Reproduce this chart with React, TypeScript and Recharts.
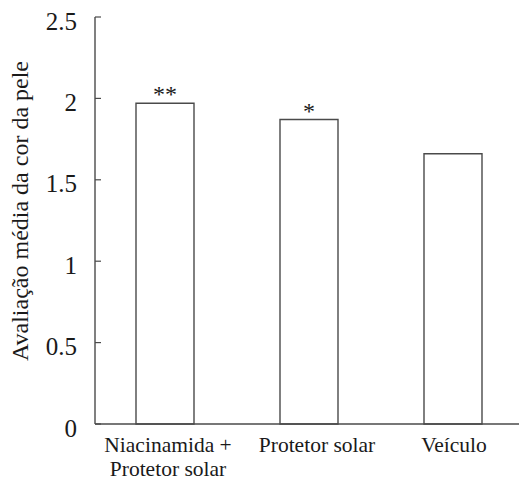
import React from 'react';
import { BarChart, Bar, XAxis, YAxis, LabelList } from 'recharts';

const categories = ['Niacinamida + Protetor solar', 'Protetor solar', 'Veículo'];
const categoryLines = [['Niacinamida +', 'Protetor solar'], ['Protetor solar'], ['Veículo']];
const values = [1.97, 1.87, 1.66];
const significance = ['**', '*', ''];
const yTicks = [0, 0.5, 1, 1.5, 2, 2.5];
const yLabel = 'Avaliação média da cor da pele';

const data = categories.map((name, i) => ({
  name,
  value: values[i],
  sig: significance[i],
  lines: categoryLines[i],
}));

const FONT = 'Liberation Serif';
const LINE = '#4a4a4a';
const TEXT = '#1a1a1a';
const labelShift = [3, 8, 1];

const txt = (size: number): React.CSSProperties => ({ fontFamily: FONT, fontSize: size, fill: TEXT });

const YTick = (props: any) => {
  const { x, y, payload } = props;
  return (
    <g>
      <line x1={x} x2={x + 6} y1={y} y2={y} stroke={LINE} strokeWidth={1.2} />
      <text x={x - 18} y={y + 12.5} textAnchor="end" fontFamily={FONT} style={txt(25)}>
        {String(payload.value)}
      </text>
    </g>
  );
};

const XTick = (props: any) => {
  const { x, y, index } = props;
  const lines = categoryLines[index] || [];
  const cx = x + (labelShift[index] || 0);
  return (
    <g>
      {lines.map((t, i) => (
        <text key={i} x={cx} y={y + 28 + i * 24} textAnchor="middle" fontFamily={FONT} style={txt(21.5)}>
          {t}
        </text>
      ))}
    </g>
  );
};

const SigLabel = (props: any) => {
  const { x, y, width, value } = props;
  if (!value) return null;
  return (
    <text x={x + width / 2} y={y - 1} textAnchor="middle" fontFamily={FONT} style={txt(24)}>
      {value}
    </text>
  );
};

export default function App() {
  return (
    <div style={{ position: 'absolute', left: 0, top: 0, width: 519, height: 481, overflow: 'hidden', background: '#fff', fontFamily: FONT }}>
      <BarChart
        width={545}
        height={481}
        data={data}
        margin={{ top: 17, right: 20, bottom: 0, left: 0 }}
        barCategoryGap={0}
        style={{ fontFamily: FONT }}
      >
        <XAxis
          xAxisId="top"
          orientation="top"
          dataKey="name"
          height={0}
          tick={false}
          tickLine={false}
          axisLine={{ stroke: LINE, strokeWidth: 1.4 }}
          padding={{ left: -2, right: 0 }}
        />
        <XAxis
          dataKey="name"
          interval={0}
          height={57}
          tickSize={0}
          tickMargin={0}
          tickLine={false}
          axisLine={{ stroke: LINE, strokeWidth: 1.4 }}
          tick={<XTick />}
          padding={{ left: -2, right: 0 }}
        />
        <YAxis
          domain={[0, 2.5]}
          ticks={yTicks}
          width={95}
          tickSize={0}
          tickMargin={0}
          tickLine={false}
          axisLine={{ stroke: LINE, strokeWidth: 1.4 }}
          tick={<YTick />}
          interval={0}
          label={{
            content: () => (
              <text
                x={28}
                y={211}
                transform="rotate(-90, 28, 211)"
                textAnchor="middle"
                fontFamily={FONT}
                style={txt(24)}
              >
                {yLabel}
              </text>
            ),
          }}
        />
        <Bar dataKey="value" barSize={58} fill="#ffffff" stroke={LINE} strokeWidth={1.4} isAnimationActive={false}>
          <LabelList dataKey="sig" content={<SigLabel />} />
        </Bar>
      </BarChart>
    </div>
  );
}
